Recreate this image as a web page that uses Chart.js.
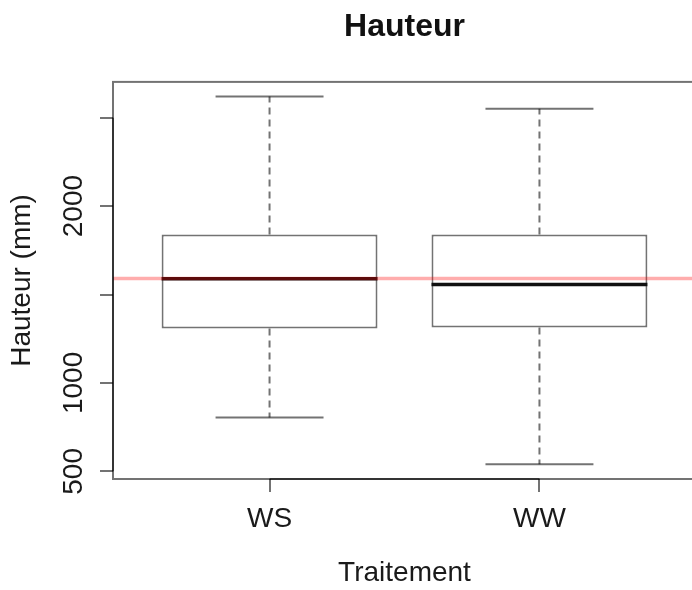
<!DOCTYPE html>
<html lang="fr">
<head>
<meta charset="utf-8">
<title>Hauteur</title>
<script src="https://cdn.jsdelivr.net/npm/chart.js@4.4.1/dist/chart.umd.min.js"></script>
<style>
  html, body { margin: 0; padding: 0; background: #fff; overflow: hidden; }
  canvas { display: block; }
</style>
</head>
<body>
<canvas id="chart" width="809" height="590"></canvas>
<script>
// Boxplot summary of plant height per treatment
const categories  = ['WS', 'WW'];
const whiskerLow  = [805, 540];
const q1          = [1308, 1314];
const medians     = [1589, 1557];
const q3          = [1839, 1839];
const whiskerHigh = [2619, 2551];
const refValue    = 1590;                 // horizontal reference line
const yTickValues = [500, 1000, 1500, 2000, 2500];
const yTickLabels = ['500', '1000', '', '2000', ''];

// axis ranges (data range widened by 4 % on each side)
const yLo = Math.min(...whiskerLow), yHi = Math.max(...whiskerHigh);
const yExt = 0.04 * (yHi - yLo);
const xLo = 0.5, xHi = categories.length + 0.5;
const xExt = 0.04 * (xHi - xLo);

const BOX_W = 0.8, CAP_W = 0.4;
const INK = 'rgba(0,0,0,0.55)';
const FONT = '"Liberation Sans", Arial, Helvetica, sans-serif';
Chart.defaults.font.family = FONT;
Chart.defaults.color = '#1a1a1a';

const boxExtras = {
  id: 'boxExtras',
  afterDatasetsDraw(chart) {
    const { ctx, chartArea: a } = chart;
    const xs = chart.scales.x, ys = chart.scales.y;
    ctx.save();
    ctx.beginPath();
    ctx.rect(a.left, a.top, a.right - a.left, a.bottom - a.top);
    ctx.clip();
    categories.forEach((c, i) => {
      const xc = xs.getPixelForValue(i + 1);
      // dashed whiskers
      ctx.strokeStyle = INK;
      ctx.lineWidth = 2;
      ctx.setLineDash([7, 5]);
      ctx.beginPath();
      ctx.moveTo(xc, ys.getPixelForValue(q3[i]));
      ctx.lineTo(xc, ys.getPixelForValue(whiskerHigh[i]));
      ctx.moveTo(xc, ys.getPixelForValue(q1[i]));
      ctx.lineTo(xc, ys.getPixelForValue(whiskerLow[i]));
      ctx.stroke();
      ctx.setLineDash([]);
      // caps
      const cl = xs.getPixelForValue(i + 1 - CAP_W / 2);
      const cr = xs.getPixelForValue(i + 1 + CAP_W / 2);
      ctx.beginPath();
      [whiskerHigh[i], whiskerLow[i]].forEach(v => {
        const y = ys.getPixelForValue(v);
        ctx.moveTo(cl, y); ctx.lineTo(cr, y);
      });
      ctx.stroke();
      // median
      ctx.strokeStyle = '#111';
      ctx.lineWidth = 3.5;
      ctx.beginPath();
      const ym = ys.getPixelForValue(medians[i]);
      ctx.moveTo(xs.getPixelForValue(i + 1 - BOX_W / 2), ym);
      ctx.lineTo(xs.getPixelForValue(i + 1 + BOX_W / 2), ym);
      ctx.stroke();
    });
    // reference line
    ctx.strokeStyle = 'rgba(255,0,0,0.32)';
    ctx.lineWidth = 3.5;
    ctx.beginPath();
    const yr = ys.getPixelForValue(refValue);
    ctx.moveTo(a.left, yr); ctx.lineTo(a.right, yr);
    ctx.stroke();
    ctx.restore();

    // plot frame and axis lines
    ctx.save();
    ctx.strokeStyle = INK;
    ctx.lineWidth = 2;
    ctx.strokeRect(a.left, a.top, a.right - a.left, a.bottom - a.top);
    ctx.beginPath();
    ctx.moveTo(xs.getPixelForValue(1), a.bottom);
    ctx.lineTo(xs.getPixelForValue(categories.length), a.bottom);
    ctx.moveTo(a.left, ys.getPixelForValue(yTickValues[0]));
    ctx.lineTo(a.left, ys.getPixelForValue(yTickValues[yTickValues.length - 1]));
    ctx.stroke();

    // vertical y tick labels
    ctx.fillStyle = '#1a1a1a';
    ctx.font = '28px ' + FONT;
    ctx.textAlign = 'center';
    ctx.textBaseline = 'alphabetic';
    yTickValues.forEach((v, k) => {
      if (!yTickLabels[k]) return;
      ctx.save();
      ctx.translate(a.left - 31, ys.getPixelForValue(v));
      ctx.rotate(-Math.PI / 2);
      ctx.fillText(yTickLabels[k], 0, 0);
      ctx.restore();
    });
    ctx.restore();
  }
};

new Chart(document.getElementById('chart'), {
  type: 'bar',
  data: {
    datasets: [{
      data: categories.map((c, i) => ({ x: i + 1, y: [q1[i], q3[i]] })),
      backgroundColor: '#ffffff',
      borderColor: INK,
      borderWidth: 2,
      borderSkipped: false,
      barPercentage: BOX_W,
      categoryPercentage: 1,
      xAxisID: 'x',
      yAxisID: 'y'
    }]
  },
  options: {
    responsive: false,
    devicePixelRatio: 1,
    animation: false,
    layout: { padding: 0 },
    plugins: {
      legend: { display: false },
      tooltip: { enabled: false },
      title: {
        display: true,
        text: 'Hauteur',
        color: '#111',
        font: { size: 32, weight: 'bold', family: FONT },
        padding: { top: 7.5, bottom: 36 }
      }
    },
    scales: {
      x: {
        type: 'linear',
        offset: false,
        min: xLo - xExt,
        max: xHi + xExt,
        afterBuildTicks: s => { s.ticks = categories.map((c, i) => ({ value: i + 1 })); },
        afterFit: s => { s.height = 111; },
        ticks: {
          callback: v => categories[v - 1],
          font: { size: 28 },
          padding: 10,
          maxRotation: 0,
          autoSkip: false
        },
        grid: { offset: false, drawOnChartArea: false, drawTicks: true, tickLength: 13, color: INK, lineWidth: 2 },
        border: { display: false },
        title: { display: true, text: 'Traitement', font: { size: 28 }, padding: { top: 0, bottom: 0 } }
      },
      y: {
        type: 'linear',
        position: 'left',
        min: yLo - yExt,
        max: yHi + yExt,
        afterBuildTicks: s => { s.ticks = yTickValues.map(v => ({ value: v })); },
        afterFit: s => { s.width = 113; },
        ticks: { display: false },
        grid: { drawOnChartArea: false, drawTicks: true, tickLength: 13, color: INK, lineWidth: 2 },
        border: { display: false },
        title: { display: true, text: 'Hauteur (mm)', font: { size: 28 }, padding: { top: 5, bottom: 0 } }
      },
      yRight: {
        type: 'linear',
        position: 'right',
        display: true,
        afterFit: s => { s.width = 113; },
        ticks: { display: false },
        grid: { display: false },
        border: { display: false }
      }
    }
  },
  plugins: [boxExtras]
});
</script>
</body>
</html>
